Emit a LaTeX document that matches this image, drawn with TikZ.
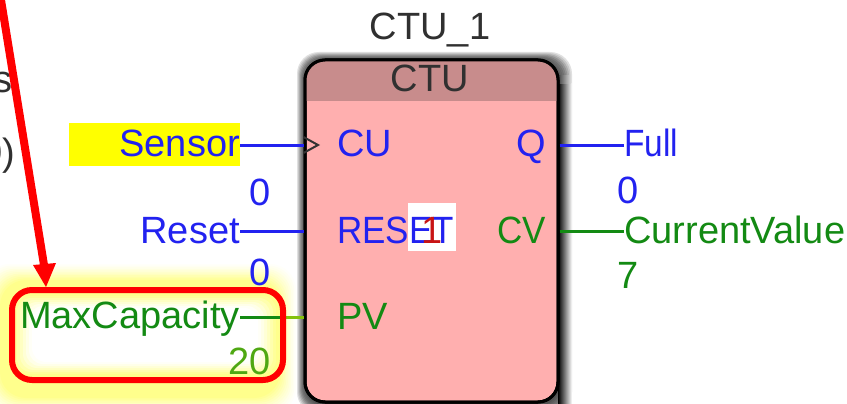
\documentclass[tikz,border=0pt]{standalone}
\usepackage{fontspec}
\setmainfont{Liberation Sans}
\definecolor{plcblue}{HTML}{2222F0}
\definecolor{plcgreen}{HTML}{138A13}
\definecolor{plclime}{HTML}{4FA812}
\definecolor{blockfill}{HTML}{FFAFAF}
\definecolor{blockhead}{HTML}{C88C8C}
\definecolor{textgrey}{HTML}{303030}
\definecolor{alarmred}{HTML}{FF0000}
\definecolor{hilite}{HTML}{FFFF00}
\definecolor{forcered}{HTML}{C81414}
\begin{document}
\begin{tikzpicture}[x=1pt,y=-1pt,
  lbl/.style={inner sep=0pt,font=\fontsize{38}{38}\selectfont},
  bluetext/.style={lbl,text=plcblue},
  greentext/.style={lbl,text=plcgreen},
  limetext/.style={lbl,text=plclime},
  greytext/.style={lbl,text=textgrey},
  bluewire/.style={draw=plcblue,line width=3pt},
  greenwire/.style={draw=plcgreen,line width=3pt},
  limewire/.style={draw=plclime!70!hilite,line width=3pt},
  callout/.style={draw=alarmred,line width=6pt,rounded corners=20pt},
  blockbody/.style={draw=black,line width=3pt,fill=blockfill,rounded corners=20pt,
    minimum width=253pt,minimum height=342pt,inner sep=0pt}]
\useasboundingbox (0,0) rectangle (847,404);
\clip (0,0) rectangle (847,404);
\fill[white] (0,0) rectangle (847,404);

% yellow glow of the highlighted input
\foreach \k/\c in {0/2,1/5,2/8,3/12,4/16,5/20,6/25,7/30,8/35,9/40,10/45}{
  \fill[hilite!\c!white,rounded corners=26pt]
    (-16+1.6*\k,264+1.6*\k) rectangle (296-1.6*\k,414-1.6*\k);
}
\foreach \k/\c in {0/40,1/32,2/24,3/16,4/9,5/3,6/0}{
  \fill[hilite!\c!white,rounded corners=14pt]
    (14+3*\k,296+2*\k) rectangle (276-3*\k,374-2*\k);
}

% block shadow
\foreach \k/\g in {0/12,1/22,2/32,3/42,4/50,5/56,6/60,7/64,8/68}{
  \fill[black!\g!white,rounded corners=22pt]
    (297+\k,52+\k) rectangle (572-1.5*\k,414-\k);
}
\shade[left color=black,right color=white] (558,84) rectangle (572,404);
\shade[left color=black!75,right color=black!12] (558,76) rectangle (571,84);

\fill[hilite] (69,123) rectangle (240,166);

% block
\node[blockbody] (block) at (431.5,231) {};
\fill[blockhead,rounded corners=20pt] (305,60) -- (558,60) -- (558,101) -- (305,101) -- cycle;
\fill[blockhead] (305,85) rectangle (558,101);
\draw[black,line width=3pt,rounded corners=20pt] (305,60) rectangle (558,402);

% cropped texts on the left edge
\node[greytext,anchor=base] (cutS) at (3,93) {s};
\node[greytext,anchor=base] (cutP) at (-2,165) {0)};

% titles
\node[greytext,anchor=base] (inst) at (430,40) {CTU\_1};
\node[greytext,anchor=base] (type) at (430,92) {CTU};

% pins
\node[fill=white,minimum width=48pt,minimum height=48pt,inner sep=0pt] (force) at (432,227) {};
\node[bluetext,anchor=base west] (cu) at (337,157) {CU};
\node[bluetext,anchor=base west,xscale=.92] (resetpin) at (337,243) {RESET};
\node[greentext,anchor=base west] (pv) at (337,329) {PV};
\node[bluetext,anchor=base east] (q) at (546,157) {Q};
\node[greentext,anchor=base east,xscale=.92] (cv) at (546,243) {CV};
\node[lbl,text=forcered,anchor=base] (forceval) at (432,243) {1};

% variables
\node[bluetext,anchor=base east] (sensor) at (240,157) {Sensor};
\node[bluetext,anchor=base east] (reset) at (240,243) {Reset};
\node[greentext,anchor=base east] (maxcap) at (240,328) {MaxCapacity};
\node[bluetext,anchor=base west,xscale=.88] (full) at (624,157) {Full};
\node[greentext,anchor=base west] (current) at (624,243) {CurrentValue};

% values
\node[bluetext,anchor=base] (v1) at (260,205) {0};
\node[bluetext,anchor=base] (v2) at (260,285) {0};
\node[limetext,anchor=base east] (v3) at (271,374) {20};
\node[bluetext,anchor=base] (v4) at (628,203) {0};
\node[greentext,anchor=base] (v5) at (628,288) {7};

% connection points at wire height
\coordinate (c1) at (sensor.east |- 0,145);
\coordinate (c2) at (reset.east |- 0,231);
\coordinate (c3) at (maxcap.east |- 0,317);
\coordinate (c4) at (full.west |- 0,145);
\coordinate (c5) at (current.west |- 0,231);
\coordinate (c3m) at (280,317);

% wires
\draw[bluewire] (c1) -- (block.west |- c1);
\draw[bluewire] (c2) -- (block.west |- c2);
\draw[greenwire] (c3) -- (c3m);
\draw[limewire] (c3m) -- (block.west |- c3);
\draw[bluewire] (block.east |- c4) -- (c4);
\draw[greenwire] (block.east |- c5) -- (c5);
\draw[black!80,line width=2pt] (block.west |- 0,137) -- (318,145) -- (block.west |- 0,153);

% callout
\draw[callout] (12,290) rectangle (283,380);
\coordinate (tail) at (1,0);
\coordinate (tip) at (46,287);
\draw[alarmred,line width=8pt] (tail) -- (44,265);
\fill[alarmred] (tip) -- (33,265) -- (56,263) -- cycle;
\end{tikzpicture}
\end{document}
